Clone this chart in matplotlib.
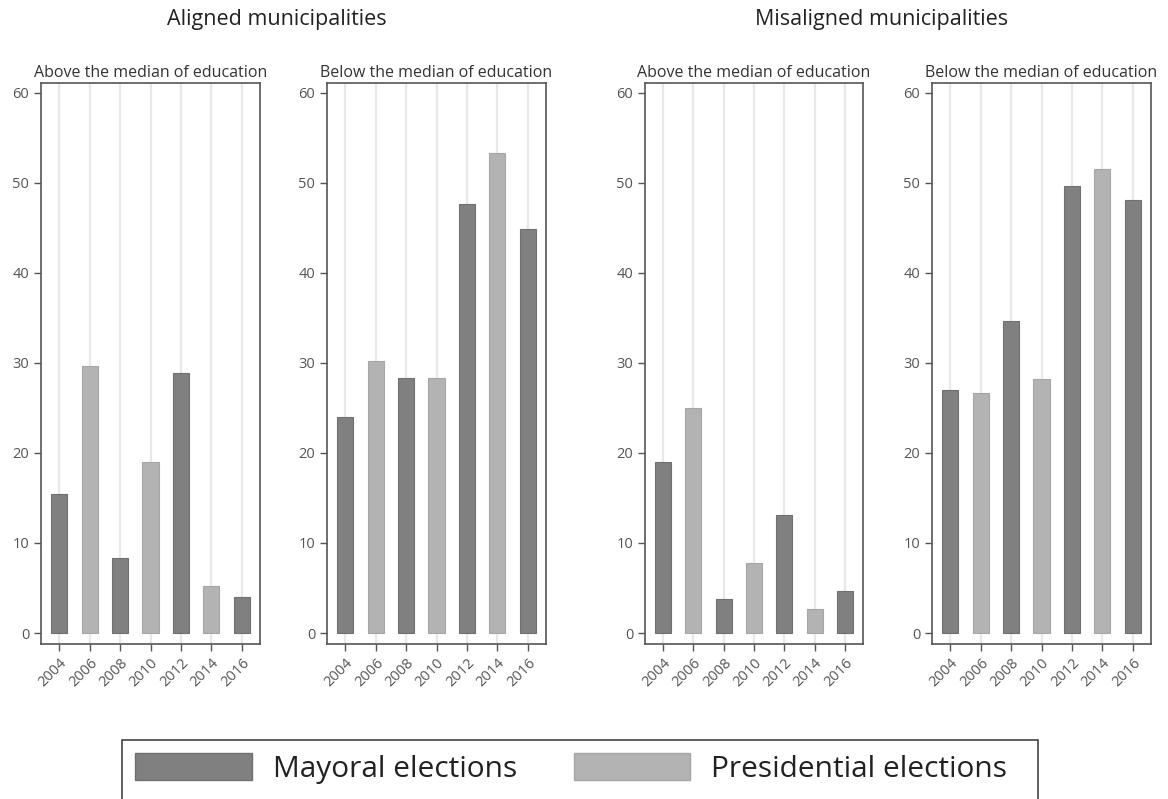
import numpy as np
import matplotlib
matplotlib.use("Agg")
import matplotlib.pyplot as plt
from matplotlib.patches import Patch, Rectangle

plt.rcParams['font.family'] = ['Open Sans', 'DejaVu Sans']

years = ["2004", "2006", "2008", "2010", "2012", "2014", "2016"]
kinds = ["m", "p", "m", "p", "m", "p", "m"]  # mayoral / presidential

aligned_above = [15.4, 29.7, 8.3, 19.0, 28.9, 5.2, 4.0]
aligned_below = [24.0, 30.2, 28.3, 28.3, 47.7, 53.3, 44.9]
misaligned_above = [19.0, 25.0, 3.8, 7.8, 13.1, 2.7, 4.7]
misaligned_below = [27.0, 26.7, 34.7, 28.2, 49.7, 51.6, 48.1]

panels = [aligned_above, aligned_below, misaligned_above, misaligned_below]
subtitles = ["Above the median of education", "Below the median of education",
             "Above the median of education", "Below the median of education"]

dark = "#808080"
light = "#b3b3b3"
W, H = 1168, 799

fig = plt.figure(figsize=(W / 100, H / 100), dpi=100)

lefts = [41, 327, 645, 932]
widths = [219, 219, 218, 219]
top_px, bot_px = 83, 644

for vals, sub, l, w in zip(panels, subtitles, lefts, widths):
    ax = fig.add_axes([l / W, (H - bot_px) / H, w / W, (bot_px - top_px) / H])
    x = np.arange(len(years))
    cols = [dark if k == "m" else light for k in kinds]
    edges = ["#707070" if k == "m" else "#a5a5a5" for k in kinds]
    ax.bar(x, vals, width=0.53, color=cols, edgecolor=edges, linewidth=0.8, zorder=3)
    ax.set_xlim(-0.6, 6.6)
    ax.set_ylim(-1.22, 61.1)
    ax.set_yticks(range(0, 61, 10))
    ax.set_xticks(x)
    ax.set_xticklabels(years, rotation=45, ha="right", rotation_mode="anchor")
    ax.xaxis.grid(True, color="#e8e8e8", linewidth=1.6, zorder=0)
    ax.yaxis.grid(False)
    for s in ax.spines.values():
        s.set_color("#555555")
        s.set_linewidth(1.2)
    ax.tick_params(axis="both", colors="#555555", labelcolor="#555555",
                   labelsize=10.5, length=5, width=1)
    ax.tick_params(axis="x", pad=3)
    ax.set_title(sub, fontsize=11.5, color="#333333", pad=4)

fig.text(277 / W, 1 - 20 / H, "Aligned municipalities", ha="center", va="center",
         fontsize=15.5, color="#222222")
fig.text(882 / W, 1 - 20 / H, "Misaligned municipalities", ha="center", va="center",
         fontsize=15.5, color="#222222")

handles = [Patch(facecolor=dark, edgecolor="#707070", label="Mayoral elections"),
           Patch(facecolor=light, edgecolor="#a5a5a5", label="Presidential elections")]
leg = fig.legend(handles=handles, loc="upper left", bbox_to_anchor=(122 / W, 1 - 740 / H),
                 ncol=2, fontsize=21.5, frameon=False,
                 handlelength=3.9, handleheight=1.0, handletextpad=0.7,
                 columnspacing=1.9, borderpad=0.45, borderaxespad=0)
for t in leg.get_texts():
    t.set_color("#222222")

# legend frame runs off the bottom of the image, as in the original
fig.patches.append(Rectangle((122 / W, -10 / H), (1038 - 122) / W, (H - 740 + 10) / H,
                             transform=fig.transFigure, fill=False,
                             edgecolor="#444444", linewidth=1.2))

fig.savefig("out.png", dpi=100)
